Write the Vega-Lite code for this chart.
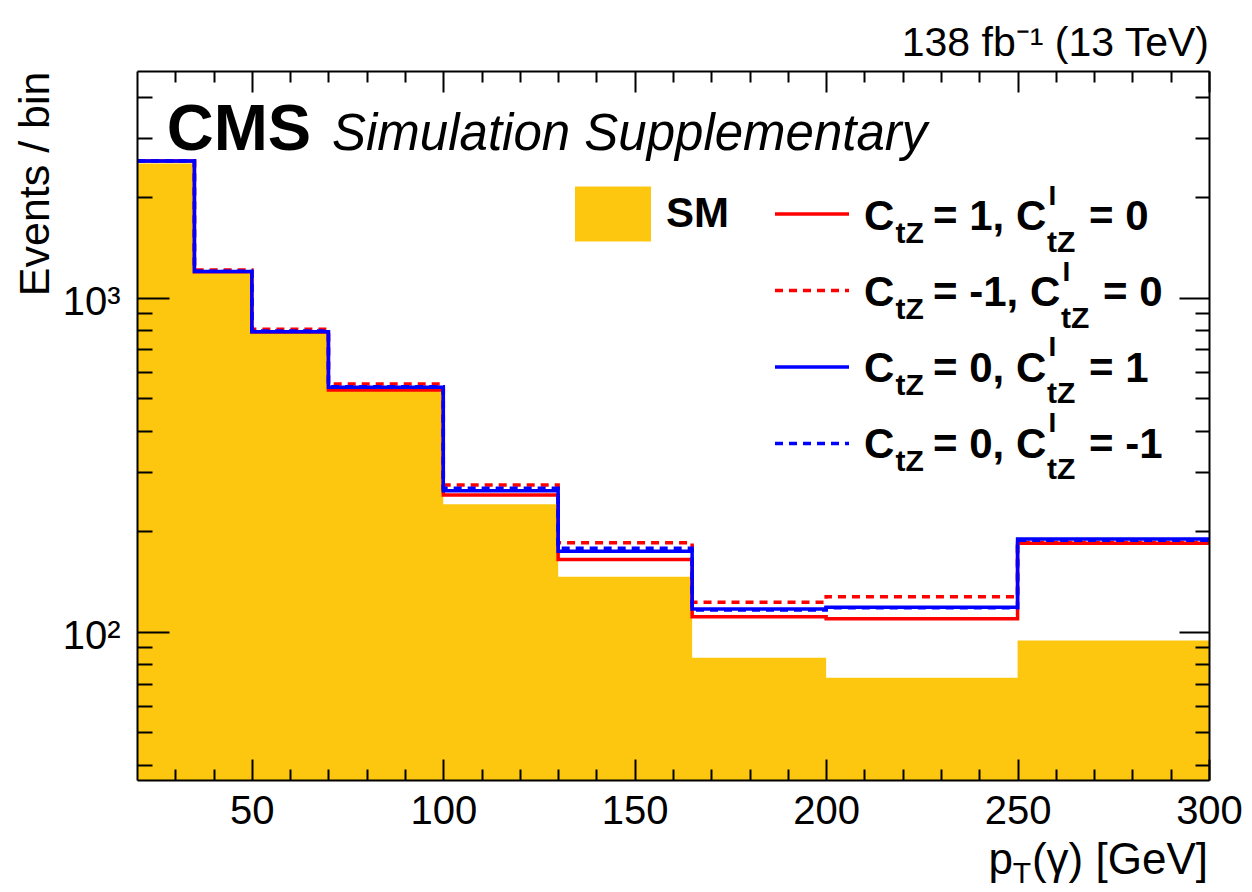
{
  "$schema": "https://vega.github.io/schema/vega-lite/v6.json",
  "width": 1072,
  "height": 709,
  "autosize": "none",
  "padding": {"left": 137, "top": 71, "right": 43, "bottom": 112},
  "background": "white",
  "config": {
    "font": "Liberation Sans",
    "view": {"stroke": null},
    "axis": {"grid": false, "domainColor": "black", "domainWidth": 2, "tickColor": "black", "tickWidth": 2, "labelColor": "black", "labelFont": "Liberation Sans", "labelFontSize": 40, "labelFlush": false, "labelOverlap": false}
  },
  "title": {"text": "138 fb⁻¹ (13 TeV)", "anchor": "end", "frame": "group", "font": "Liberation Sans", "fontSize": 41, "fontWeight": "normal", "color": "black", "baseline": "alphabetic", "offset": -27},
  "datasets": {
    "sm": [
      {"x": 20, "v": 2521, "proc": "SM"},
      {"x": 35, "v": 1183, "proc": "SM"},
      {"x": 50, "v": 782, "proc": "SM"},
      {"x": 70, "v": 527, "proc": "SM"},
      {"x": 100, "v": 241, "proc": "SM"},
      {"x": 130, "v": 146, "proc": "SM"},
      {"x": 165, "v": 83.6, "proc": "SM"},
      {"x": 200, "v": 72.8, "proc": "SM"},
      {"x": 250, "v": 94.2, "proc": "SM"},
      {"x": 300, "v": 94.2, "proc": "SM"}
    ],
    "lines": [
      {"series": "C_tZ = 1, C^I_tZ = 0", "x": 20, "v": 2566},
      {"series": "C_tZ = 1, C^I_tZ = 0", "x": 35, "v": 1195},
      {"series": "C_tZ = 1, C^I_tZ = 0", "x": 50, "v": 790},
      {"series": "C_tZ = 1, C^I_tZ = 0", "x": 70, "v": 529},
      {"series": "C_tZ = 1, C^I_tZ = 0", "x": 100, "v": 256.7},
      {"series": "C_tZ = 1, C^I_tZ = 0", "x": 130, "v": 164.6},
      {"series": "C_tZ = 1, C^I_tZ = 0", "x": 165, "v": 110.9},
      {"series": "C_tZ = 1, C^I_tZ = 0", "x": 200, "v": 109.4},
      {"series": "C_tZ = 1, C^I_tZ = 0", "x": 250, "v": 184},
      {"series": "C_tZ = 1, C^I_tZ = 0", "x": 300, "v": 184},
      {"series": "C_tZ = -1, C^I_tZ = 0", "x": 20, "v": 2570},
      {"series": "C_tZ = -1, C^I_tZ = 0", "x": 35, "v": 1210},
      {"series": "C_tZ = -1, C^I_tZ = 0", "x": 50, "v": 804},
      {"series": "C_tZ = -1, C^I_tZ = 0", "x": 70, "v": 551.5},
      {"series": "C_tZ = -1, C^I_tZ = 0", "x": 100, "v": 274.9},
      {"series": "C_tZ = -1, C^I_tZ = 0", "x": 130, "v": 184.8},
      {"series": "C_tZ = -1, C^I_tZ = 0", "x": 165, "v": 122.6},
      {"series": "C_tZ = -1, C^I_tZ = 0", "x": 200, "v": 127.4},
      {"series": "C_tZ = -1, C^I_tZ = 0", "x": 250, "v": 185},
      {"series": "C_tZ = -1, C^I_tZ = 0", "x": 300, "v": 185},
      {"series": "C_tZ = 0, C^I_tZ = 1", "x": 20, "v": 2566},
      {"series": "C_tZ = 0, C^I_tZ = 1", "x": 35, "v": 1197},
      {"series": "C_tZ = 0, C^I_tZ = 1", "x": 50, "v": 791},
      {"series": "C_tZ = 0, C^I_tZ = 1", "x": 70, "v": 539.1},
      {"series": "C_tZ = 0, C^I_tZ = 1", "x": 100, "v": 264.4},
      {"series": "C_tZ = 0, C^I_tZ = 1", "x": 130, "v": 174.2},
      {"series": "C_tZ = 0, C^I_tZ = 1", "x": 165, "v": 117},
      {"series": "C_tZ = 0, C^I_tZ = 1", "x": 200, "v": 118.4},
      {"series": "C_tZ = 0, C^I_tZ = 1", "x": 250, "v": 189.5},
      {"series": "C_tZ = 0, C^I_tZ = 1", "x": 300, "v": 189.5},
      {"series": "C_tZ = 0, C^I_tZ = -1", "x": 20, "v": 2566},
      {"series": "C_tZ = 0, C^I_tZ = -1", "x": 35, "v": 1200},
      {"series": "C_tZ = 0, C^I_tZ = -1", "x": 50, "v": 795},
      {"series": "C_tZ = 0, C^I_tZ = -1", "x": 70, "v": 541},
      {"series": "C_tZ = 0, C^I_tZ = -1", "x": 100, "v": 268.8},
      {"series": "C_tZ = 0, C^I_tZ = -1", "x": 130, "v": 177.8},
      {"series": "C_tZ = 0, C^I_tZ = -1", "x": 165, "v": 116.2},
      {"series": "C_tZ = 0, C^I_tZ = -1", "x": 200, "v": 118},
      {"series": "C_tZ = 0, C^I_tZ = -1", "x": 250, "v": 188},
      {"series": "C_tZ = 0, C^I_tZ = -1", "x": 300, "v": 188}
    ]
  },
  "resolve": {"axis": {"x": "independent", "y": "independent"}},
  "layer": [
    {
      "data": {"name": "sm"},
      "mark": {"type": "area", "interpolate": "step-after", "clip": true, "opacity": 1},
      "encoding": {
        "x": {"field": "x", "type": "quantitative", "scale": {"domain": [20, 300], "nice": false, "zero": false},
              "axis": {"orient": "bottom", "zindex": 1, "values": [50, 100, 150, 200, 250, 300], "tickSize": -21, "labelPadding": 32, "title": null}},
        "y": {"field": "v", "type": "quantitative", "scale": {"type": "log", "domain": [36, 4770], "nice": false},
              "axis": {"orient": "left", "zindex": 1, "values": [100, 1000], "tickSize": -32, "labelPadding": 49, "labelOffset": 5, "labelExpr": "datum.value >= 1000 ? '10³' : '10²'",
                       "title": "Events / bin", "titleFont": "Liberation Sans", "titleFontSize": 43, "titleFontWeight": "normal", "titleColor": "black",
                       "titleAngle": 270, "titleAlign": "right", "titleBaseline": "alphabetic", "titleX": -89, "titleY": 0}},
        "y2": {"datum": 36},
        "fill": {"field": "proc", "type": "nominal", "scale": {"domain": ["SM"], "range": ["#fdc60f"]},
                 "legend": {"orient": "none", "legendX": 438, "legendY": 105, "title": null, "padding": 0, "symbolType": "M-1,-0.725H1V0.725H-1Z", "symbolSize": 5776, "symbolStrokeWidth": 0, "symbolOpacity": 1,
                            "labelFont": "Liberation Sans", "labelFontSize": 42, "labelFontWeight": "bold", "labelColor": "black", "labelOffset": 15}}
      }
    },
    {
      "data": {"name": "lines"},
      "transform": [{"filter": {"field": "series", "equal": "C_tZ = 1, C^I_tZ = 0"}}],
      "mark": {"type": "line", "interpolate": "step-after", "strokeWidth": 3.5, "clip": true},
      "encoding": {
        "x": {"field": "x", "type": "quantitative", "scale": {"domain": [20, 300], "nice": false, "zero": false},
              "axis": {"orient": "bottom", "zindex": 1, "values": [30, 40, 60, 70, 80, 90, 110, 120, 130, 140, 160, 170, 180, 190, 210, 220, 230, 240, 260, 270, 280, 290], "tickSize": -11, "labels": false, "domain": false, "title": null}},
        "y": {"field": "v", "type": "quantitative", "scale": {"type": "log", "domain": [36, 4770], "nice": false},
              "axis": {"orient": "left", "zindex": 1, "values": [40, 50, 60, 70, 80, 90, 200, 300, 400, 500, 600, 700, 800, 900, 2000, 3000, 4000], "tickSize": -15, "labels": false, "domain": false, "title": null}},
        "stroke": {"field": "series", "type": "nominal",
                   "scale": {"domain": ["C_tZ = 1, C^I_tZ = 0", "C_tZ = -1, C^I_tZ = 0", "C_tZ = 0, C^I_tZ = 1", "C_tZ = 0, C^I_tZ = -1"], "range": ["#ff0000", "#ff0000", "#0000ff", "#0000ff"]},
                   "legend": {"orient": "none", "legendX": 636, "legendY": 104, "title": null, "padding": 0, "symbolType": "stroke", "symbolSize": 5476, "symbolStrokeWidth": 3.5, "labelExpr": "''", "rowPadding": 30.5}},
        "strokeDash": {"field": "series", "type": "nominal",
                       "scale": {"domain": ["C_tZ = 1, C^I_tZ = 0", "C_tZ = -1, C^I_tZ = 0", "C_tZ = 0, C^I_tZ = 1", "C_tZ = 0, C^I_tZ = -1"], "range": [[1, 0], [8, 6], [1, 0], [8, 6]]},
                       "legend": {"orient": "none", "legendX": 636, "legendY": 104, "title": null, "padding": 0, "symbolType": "stroke", "symbolSize": 5476, "symbolStrokeWidth": 3.5, "labelExpr": "''", "rowPadding": 30.5}}
      }
    },
    {
      "data": {"name": "lines"},
      "transform": [{"filter": {"field": "series", "equal": "C_tZ = -1, C^I_tZ = 0"}}],
      "mark": {"type": "line", "interpolate": "step-after", "strokeWidth": 3.5, "clip": true},
      "encoding": {
        "x": {"field": "x", "type": "quantitative", "scale": {"domain": [20, 300], "nice": false, "zero": false},
              "axis": {"orient": "top", "zindex": 1, "values": [50, 100, 150, 200, 250, 300], "tickSize": -21, "labels": false, "title": null}},
        "y": {"field": "v", "type": "quantitative", "scale": {"type": "log", "domain": [36, 4770], "nice": false},
              "axis": {"orient": "right", "zindex": 1, "values": [100, 1000], "tickSize": -30, "labels": false, "title": null}},
        "stroke": {"field": "series", "type": "nominal"},
        "strokeDash": {"field": "series", "type": "nominal"}
      }
    },
    {
      "data": {"name": "lines"},
      "transform": [{"filter": {"field": "series", "equal": "C_tZ = 0, C^I_tZ = 1"}}],
      "mark": {"type": "line", "interpolate": "step-after", "strokeWidth": 3.5, "clip": true},
      "encoding": {
        "x": {"field": "x", "type": "quantitative", "scale": {"domain": [20, 300], "nice": false, "zero": false},
              "axis": {"orient": "top", "zindex": 1, "values": [30, 40, 60, 70, 80, 90, 110, 120, 130, 140, 160, 170, 180, 190, 210, 220, 230, 240, 260, 270, 280, 290], "tickSize": -11, "labels": false, "domain": false, "title": null}},
        "y": {"field": "v", "type": "quantitative", "scale": {"type": "log", "domain": [36, 4770], "nice": false},
              "axis": {"orient": "right", "zindex": 1, "values": [40, 50, 60, 70, 80, 90, 200, 300, 400, 500, 600, 700, 800, 900, 2000, 3000, 4000], "tickSize": -14, "labels": false, "domain": false, "title": null}},
        "stroke": {"field": "series", "type": "nominal"},
        "strokeDash": {"field": "series", "type": "nominal"}
      }
    },
    {
      "data": {"name": "lines"},
      "transform": [{"filter": {"field": "series", "equal": "C_tZ = 0, C^I_tZ = -1"}}],
      "mark": {"type": "line", "interpolate": "step-after", "strokeWidth": 3.5, "clip": true},
      "encoding": {
        "x": {"field": "x", "type": "quantitative", "scale": {"domain": [20, 300], "nice": false, "zero": false}, "axis": null},
        "y": {"field": "v", "type": "quantitative", "scale": {"type": "log", "domain": [36, 4770], "nice": false}, "axis": null},
        "stroke": {"field": "series", "type": "nominal"},
        "strokeDash": {"field": "series", "type": "nominal"}
      }
    },
    {
      "data": {"values": [{}]},
      "mark": {"type": "text", "align": "left", "baseline": "alphabetic", "font": "Liberation Sans", "fontSize": 65, "fontWeight": "bold", "color": "black"},
      "encoding": {"x": {"datum": 27.76, "type": "quantitative", "axis": null}, "y": {"datum": 2767, "type": "quantitative", "axis": null}, "text": {"value": "CMS"}}
    },
    {
      "data": {"values": [{}]},
      "mark": {"type": "text", "align": "left", "baseline": "alphabetic", "font": "Liberation Sans", "fontSize": 51, "fontStyle": "italic", "color": "black"},
      "encoding": {"x": {"datum": 70.93, "type": "quantitative", "axis": null}, "y": {"datum": 2767, "type": "quantitative", "axis": null}, "text": {"value": "Simulation Supplementary"}}
    },
    {
      "data": {"values": [{}]},
      "mark": {"type": "text", "align": "left", "baseline": "alphabetic", "font": "Liberation Sans", "fontSize": 42, "fontWeight": "bold", "color": "black", "lineHeight": 75.9},
      "encoding": {"x": {"datum": 209.89, "type": "quantitative", "axis": null}, "y": {"datum": 1594.3, "type": "quantitative", "axis": null}, "text": {"value": ["C", "C", "C", "C"]}}
    },
    {
      "data": {"values": [{}]},
      "mark": {"type": "text", "align": "left", "baseline": "alphabetic", "font": "Liberation Sans", "fontSize": 30, "fontWeight": "bold", "color": "black", "lineHeight": 75.9},
      "encoding": {"x": {"datum": 218.12, "type": "quantitative", "axis": null}, "y": {"datum": 1454.6, "type": "quantitative", "axis": null}, "text": {"value": ["tZ", "tZ", "tZ", "tZ"]}}
    },
    {
      "data": {"values": [{}]},
      "mark": {"type": "text", "align": "left", "baseline": "alphabetic", "font": "Liberation Sans", "fontSize": 42, "fontWeight": "bold", "color": "black", "lineHeight": 75.9},
      "encoding": {"x": {"datum": 227.91, "type": "quantitative", "axis": null}, "y": {"datum": 1594.3, "type": "quantitative", "axis": null}, "text": {"value": ["= 1, C", "= -1, C", "= 0, C", "= 0, C"]}}
    },
    {
      "data": {"values": [{}]},
      "mark": {"type": "text", "align": "left", "baseline": "alphabetic", "font": "Liberation Sans", "fontSize": 28, "fontWeight": "bold", "color": "black"},
      "encoding": {"x": {"datum": 258.08, "type": "quantitative", "axis": null}, "y": {"datum": 1894, "type": "quantitative", "axis": null}, "text": {"value": "I"}}
    },
    {
      "data": {"values": [{}]},
      "mark": {"type": "text", "align": "left", "baseline": "alphabetic", "font": "Liberation Sans", "fontSize": 28, "fontWeight": "bold", "color": "black", "lineHeight": 75.9},
      "encoding": {"x": {"datum": 258.08, "type": "quantitative", "axis": null}, "y": {"datum": 667.6, "type": "quantitative", "axis": null}, "text": {"value": ["I", "I"]}}
    },
    {
      "data": {"values": [{}]},
      "mark": {"type": "text", "align": "left", "baseline": "alphabetic", "font": "Liberation Sans", "fontSize": 28, "fontWeight": "bold", "color": "black"},
      "encoding": {"x": {"datum": 261.74, "type": "quantitative", "axis": null}, "y": {"datum": 1122.4, "type": "quantitative", "axis": null}, "text": {"value": "I"}}
    },
    {
      "data": {"values": [{}]},
      "mark": {"type": "text", "align": "left", "baseline": "alphabetic", "font": "Liberation Sans", "fontSize": 30, "fontWeight": "bold", "color": "black"},
      "encoding": {"x": {"datum": 257.68, "type": "quantitative", "axis": null}, "y": {"datum": 1372.6, "type": "quantitative", "axis": null}, "text": {"value": "tZ"}}
    },
    {
      "data": {"values": [{}]},
      "mark": {"type": "text", "align": "left", "baseline": "alphabetic", "font": "Liberation Sans", "fontSize": 30, "fontWeight": "bold", "color": "black", "lineHeight": 75.9},
      "encoding": {"x": {"datum": 257.68, "type": "quantitative", "axis": null}, "y": {"datum": 483.7, "type": "quantitative", "axis": null}, "text": {"value": ["tZ", "tZ"]}}
    },
    {
      "data": {"values": [{}]},
      "mark": {"type": "text", "align": "left", "baseline": "alphabetic", "font": "Liberation Sans", "fontSize": 30, "fontWeight": "bold", "color": "black"},
      "encoding": {"x": {"datum": 261.34, "type": "quantitative", "axis": null}, "y": {"datum": 813.6, "type": "quantitative", "axis": null}, "text": {"value": "tZ"}}
    },
    {
      "data": {"values": [{}]},
      "mark": {"type": "text", "align": "left", "baseline": "alphabetic", "font": "Liberation Sans", "fontSize": 42, "fontWeight": "bold", "color": "black"},
      "encoding": {"x": {"datum": 268.66, "type": "quantitative", "axis": null}, "y": {"datum": 1594.3, "type": "quantitative", "axis": null}, "text": {"value": "= 0"}}
    },
    {
      "data": {"values": [{}]},
      "mark": {"type": "text", "align": "left", "baseline": "alphabetic", "font": "Liberation Sans", "fontSize": 42, "fontWeight": "bold", "color": "black", "lineHeight": 75.9},
      "encoding": {"x": {"datum": 268.66, "type": "quantitative", "axis": null}, "y": {"datum": 559.9, "type": "quantitative", "axis": null}, "text": {"value": ["= 1", "= -1"]}}
    },
    {
      "data": {"values": [{}]},
      "mark": {"type": "text", "align": "left", "baseline": "alphabetic", "font": "Liberation Sans", "fontSize": 42, "fontWeight": "bold", "color": "black"},
      "encoding": {"x": {"datum": 272.31, "type": "quantitative", "axis": null}, "y": {"datum": 944.8, "type": "quantitative", "axis": null}, "text": {"value": "= 0"}}
    },
    {
      "data": {"values": [{}]},
      "mark": {"type": "text", "align": "right", "baseline": "alphabetic", "font": "Liberation Sans", "fontSize": 44, "color": "black", "dx": -1},
      "encoding": {"x": {"datum": 300, "type": "quantitative", "axis": null}, "y": {"datum": 18.83, "type": "quantitative", "axis": null}, "text": {"value": "(γ) [GeV]"}}
    },
    {
      "data": {"values": [{}]},
      "mark": {"type": "text", "align": "right", "baseline": "alphabetic", "font": "Liberation Sans", "fontSize": 30, "color": "black", "dx": -178},
      "encoding": {"x": {"datum": 300, "type": "quantitative", "axis": null}, "y": {"datum": 17.7, "type": "quantitative", "axis": null}, "text": {"value": "T"}}
    },
    {
      "data": {"values": [{}]},
      "mark": {"type": "text", "align": "right", "baseline": "alphabetic", "font": "Liberation Sans", "fontSize": 44, "color": "black", "dx": -196},
      "encoding": {"x": {"datum": 300, "type": "quantitative", "axis": null}, "y": {"datum": 18.83, "type": "quantitative", "axis": null}, "text": {"value": "p"}}
    }
  ]
}
